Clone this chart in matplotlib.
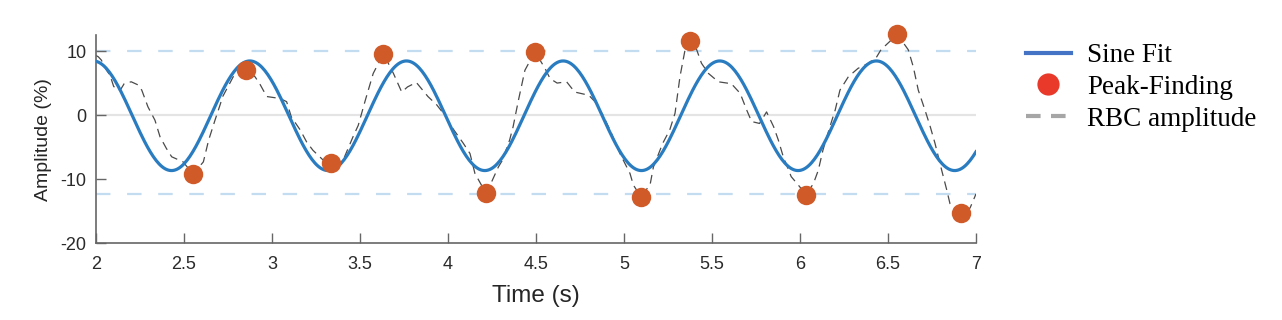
import numpy as np
import matplotlib
matplotlib.use("Agg")
import matplotlib.pyplot as plt
from matplotlib.lines import Line2D

plt.rcParams["axes.unicode_minus"] = False

# RBC amplitude trace (time in s, amplitude in %)
rbc_time = [2.000, 2.013, 2.03, 2.06, 2.08, 2.10, 2.12, 2.14, 2.16, 2.20, 2.24, 2.26,
            2.295, 2.335, 2.364, 2.40, 2.43, 2.495, 2.551, 2.61, 2.64, 2.676, 2.705,
            2.72, 2.78, 2.852, 2.903, 2.93, 2.97, 3.045, 3.083, 3.11, 3.16, 3.197,
            3.233, 3.29, 3.335, 3.40, 3.46, 3.49, 3.53, 3.575, 3.633, 3.69, 3.737,
            3.77, 3.82, 3.886, 3.936, 3.99, 4.02, 4.087, 4.125, 4.153, 4.214, 4.248,
            4.286, 4.31, 4.35, 4.37, 4.40, 4.437, 4.494, 4.551, 4.58, 4.62, 4.674,
            4.72, 4.80, 4.835, 4.88, 4.92, 4.977, 5.034, 5.053, 5.095, 5.148, 5.167,
            5.22, 5.26, 5.29, 5.318, 5.347, 5.375, 5.413, 5.44, 5.48, 5.536, 5.61,
            5.66, 5.697, 5.725, 5.77, 5.81, 5.85, 5.877, 5.905, 5.95, 5.99, 6.034,
            6.076, 6.104, 6.13, 6.17, 6.2, 6.227, 6.275, 6.33, 6.39, 6.436, 6.46,
            6.553, 6.615, 6.644, 6.672, 6.71, 6.74, 6.767, 6.805, 6.834, 6.852,
            6.915, 6.966, 7.0]
rbc_amp = [9.3, 9.1, 8.6, 7.0, 6.2, 4.5, 3.9, 4.0, 4.9, 5.2, 4.7, 3.9,
           1.3, -0.8, -3.4, -5.2, -6.5, -7.3, -9.2, -7.3, -3.9, -0.8, 1.6,
           2.9, 6.0, 7.1, 6.0, 4.9, 2.9, 2.6, 2.1, -0.3, -2.3, -4.2,
           -5.5, -7.0, -7.4, -7.3, -3.4, -1.6, 2.3, 6.5, 9.6, 6.5, 3.6,
           4.4, 5.1, 2.9, 1.6, -0.3, -1.8, -4.4, -6.0, -9.1, -12.1, -10.4,
           -8.1, -7.0, -3.9, -1.8, 2.3, 7.0, 9.9, 7.3, 5.7, 5.0, 5.2,
           3.6, 3.1, 2.1, 0.0, -2.3, -6.0, -9.1, -10.9, -12.7, -10.9, -8.1,
           -4.4, -2.3, 0.3, 6.0, 10.2, 11.6, 10.2, 8.1, 6.5, 5.2, 4.9,
           3.4, 0.8, -1.0, -1.3, 0.5, -1.8, -3.9, -6.5, -9.6, -10.9, -12.4,
           -10.7, -8.6, -5.5, -1.8, 0.8, 3.9, 6.0, 7.3, 8.1, 9.1, 10.2,
           12.6, 10.2, 7.5, 3.9, 0.8, -1.8, -4.4, -8.6, -11.7, -13.8,
           -15.3, -14.5, -12.3]

# peaks found by peak-finding
peak_time = [2.551, 2.852, 3.335, 3.633, 4.214, 4.494, 5.095, 5.375, 6.034, 6.553, 6.915]
peak_amp = [-9.2, 7.1, -7.4, 9.6, -12.1, 9.9, -12.7, 11.6, -12.4, 12.6, -15.3]

# sine fit parameters
fit_amp = 8.55
fit_period = 0.89
fit_peak_time = 2.874
fit_offset = -0.1

# mean max / min reference levels
ref_levels = [10.0, -12.3]

fig = plt.figure(figsize=(12.82, 3.2), dpi=100)
ax = fig.add_axes([96 / 1282, 1 - 243.3 / 320, 880 / 1282, (243.3 - 35) / 320])

tick_font = "Liberation Sans"

ax.axhline(0, color="#e4e4e4", lw=1.6, zorder=0)
for lvl in ref_levels:
    ax.axhline(lvl, color="#c3dcf0", lw=1.6, dashes=(6.5, 7.5), zorder=0)

t_fit = np.linspace(2, 7, 600)
fit_vals = fit_offset + fit_amp * np.cos(2 * np.pi * (t_fit - fit_peak_time) / fit_period)

ax.plot(rbc_time, rbc_amp, color="#4a4a4a", lw=0.9, dashes=(7, 4.5), zorder=2)
ax.plot(t_fit, fit_vals, color="#2a7cc1", lw=2.3, zorder=3)
ax.plot(peak_time, peak_amp, "o", color="#d05a28", markersize=14, markeredgewidth=0,
        zorder=4, clip_on=False)

ax.set_xlim(2, 7)
ax.set_ylim(-20, 12.5)
ax.set_xticks(np.arange(2, 7.01, 0.5))
ax.set_xticklabels(["2", "2.5", "3", "3.5", "4", "4.5", "5", "5.5", "6", "6.5", "7"])
ax.set_yticks([-20, -10, 0, 10])

for s in ["top", "right"]:
    ax.spines[s].set_visible(False)
for s in ["left", "bottom"]:
    ax.spines[s].set_color("#666666")
    ax.spines[s].set_linewidth(1.2)

ax.tick_params(direction="in", length=7, width=1, color="#666666",
               labelcolor="#2a2a2a", labelsize=13)
ax.tick_params(axis="x", pad=9)
ax.tick_params(axis="y", pad=7)
for lab in ax.get_xticklabels() + ax.get_yticklabels():
    lab.set_family(tick_font)

ax.set_xlabel("Time (s)", fontsize=17.5, family=tick_font, color="#262626", labelpad=9)
ax.set_ylabel("Amplitude (%)", fontsize=14, family=tick_font, color="#262626", labelpad=6)

handles = [
    Line2D([], [], color="#4472c4", lw=3),
    Line2D([], [], ls="none", marker="o", color="#e8392a", markersize=16, markeredgewidth=0),
    Line2D([], [], color="#a6a6a6", lw=3, dashes=(3.5, 2.5)),
]
fig.legend(handles, ["Sine Fit", "Peak-Finding", "RBC amplitude"],
           loc="upper left", bbox_to_anchor=(1026 / 1282, 1 - 43 / 320),
           frameon=False, borderpad=0, borderaxespad=0, handlelength=1.65,
           handletextpad=0.6, labelspacing=0.25,
           prop={"family": "Liberation Serif", "size": 19.5})

fig.savefig("out.png", dpi=100)
